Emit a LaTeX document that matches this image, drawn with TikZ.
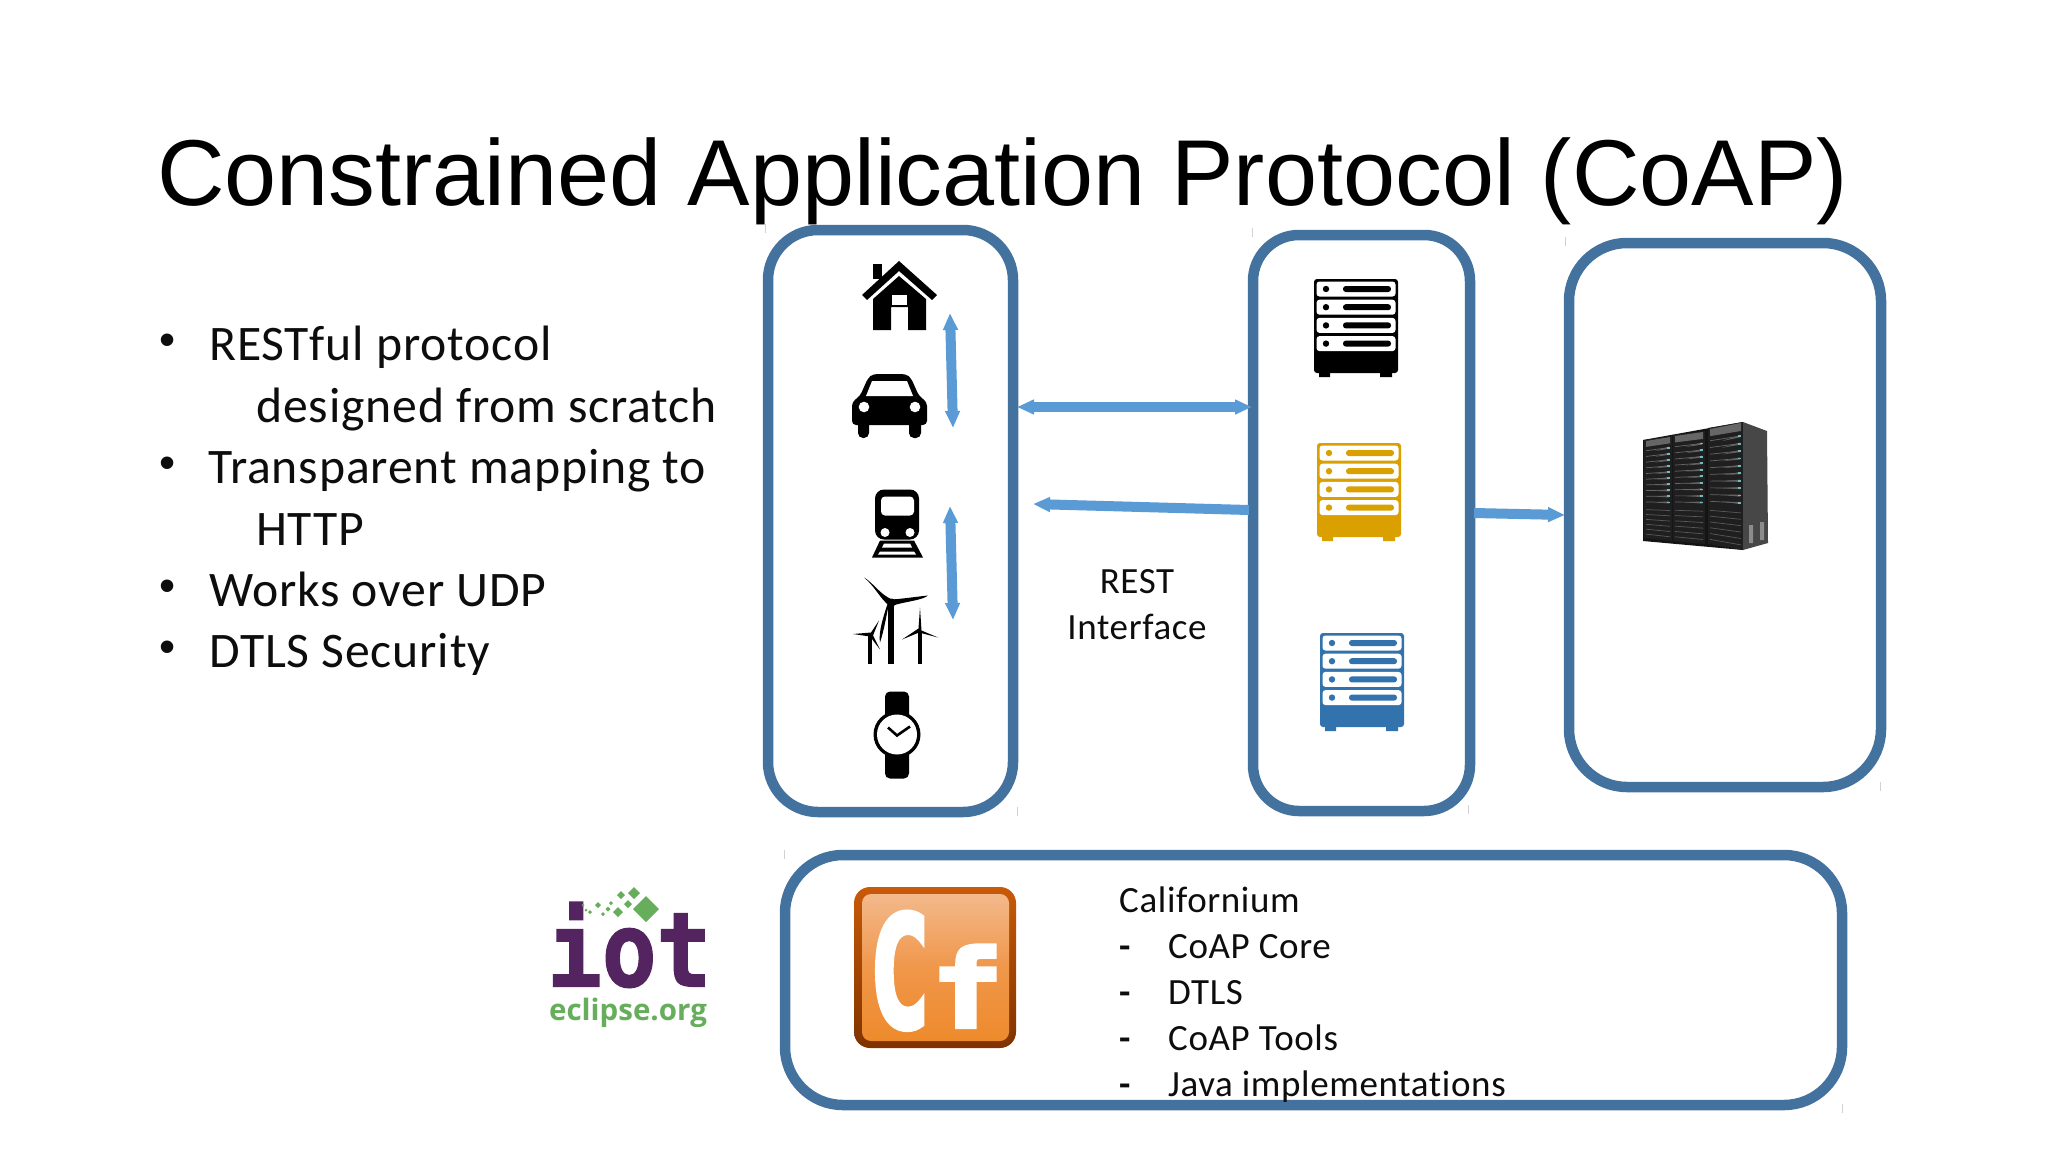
\documentclass[tikz,border=0pt]{standalone}
\usepackage{fontspec}
\usepackage{graphicx}
\setmainfont{Carlito}[Ligatures=NoCommon,LetterSpace=1.7]
\newfontfamily\titlefont{Liberation Sans}
\newfontfamily\logofont{DejaVu Sans Mono Bold}[FakeBold=3.5]
\newfontfamily\logofontb{DejaVu Sans Mono Bold}[FakeBold=1.5]
\newfontfamily\orgfont{Open Sans}
\usetikzlibrary{arrows.meta,shapes.geometric}
\definecolor{boxblue}{HTML}{44729F}
\definecolor{arrowblue}{HTML}{5B9BD5}
\definecolor{srvyellow}{HTML}{D9A000}
\definecolor{srvblue}{HTML}{3273AE}
\definecolor{iotpurple}{HTML}{53245F}
\definecolor{iotgreen}{HTML}{66AE5B}
\definecolor{cfrimtop}{HTML}{C85A08}
\definecolor{cfrimbot}{HTML}{7F3300}
\definecolor{cftop}{HTML}{F3B98C}
\definecolor{cfmid}{HTML}{F0974A}
\definecolor{cfbot}{HTML}{EE8A2C}
\tikzset{
  panel/.style={draw=boxblue,line width=10.5pt,rounded corners=#1},
  link/.style={draw=arrowblue,line width=10pt},
  two/.style={link,{Triangle[length=17pt,width=14pt]}-{Triangle[length=17pt,width=14pt]}},
  one/.style={link,-{Triangle[length=17pt,width=14pt]}},
  body/.style={inner sep=0pt,anchor=base west,font=\fontsize{49.7}{58}\selectfont,text=black!95},
  small/.style={inner sep=0pt,anchor=base west,font=\fontsize{37}{42}\selectfont,text=black!95},
  tick/.style={draw=black!18,line width=1pt}
}
% server icon: top-left corner #1,#2 ; colour #3
\newcommand{\serverIcon}[3]{%
  \begin{scope}[shift={(#1,#2)}]
    \fill[#3,rounded corners=3pt] (0,0) rectangle (84,94);
    \fill[#3] (5,92) rectangle (16,98) (66,92) rectangle (78,98);
    \foreach \s in {0,18.2,36.4,54.6}{
      \fill[white,rounded corners=3pt] (2.5,2.5+\s) rectangle (81.5,17.5+\s);
      \fill[#3] (12,10+\s) circle (3.2);
      \fill[#3,rounded corners=2.8pt] (29,7+\s) rectangle (77,13+\s);
    }
  \end{scope}}
% rack tower: xl xr ytl ytr ybl ybr
\newcommand{\rackTower}[6]{%
  \fill[black!88] (#1,#3) -- (#2,#4) -- (#2,#6) -- (#1,#5) -- cycle;
  \pgfmathsetmacro{\hl}{#3+0.07*(#5-#3)}
  \pgfmathsetmacro{\hr}{#4+0.07*(#6-#4)}
  \fill[black!60] (#1+2,#3+1) -- (#2-2,#4+1) -- (#2-2,\hr) -- (#1+2,\hl) -- cycle;
  \foreach \k in {0,...,9}{
    \pgfmathsetmacro{\f}{0.11+0.058*\k}
    \pgfmathsetmacro{\yl}{#3+\f*(#5-#3)}
    \pgfmathsetmacro{\yr}{#4+\f*(#6-#4)}
    \fill[black!45!white!70!black] (#1*.6+#2*.4,\yl+.3) -- (#2-3,\yr-1) -- (#2-3,\yr+1.2) -- cycle;
    \draw[black!60,line width=.7pt] (#1+2,\yl) -- (#2-3,\yr);
    \fill[teal!55!white] (#2-5,\yr-.8) rectangle (#2-2.5,\yr+1);
  }
  \foreach \k in {0,...,5}{
    \pgfmathsetmacro{\f}{0.71+0.05*\k}
    \pgfmathsetmacro{\yl}{#3+\f*(#5-#3)}
    \pgfmathsetmacro{\yr}{#4+\f*(#6-#4)}
    \draw[black!65,line width=.7pt] (#1+2,\yl) -- (#2-2,\yr);
  }}
\begin{document}
\begin{tikzpicture}[x=1pt,y=-1pt]
\fill[white] (0,0) rectangle (2048,1152);
\useasboundingbox (0,0) rectangle (2048,1152);

% title
\node[inner sep=0pt,anchor=base west,font=\titlefont\fontsize{93.6}{100}\selectfont] (title) at (157,205) {Constrained Application Protocol (CoAP)};

% bullets
\foreach \n/\yy in {a/360,b/483,c/606,d/667}{
  \node[body,font=\titlefont\fontsize{46}{50}\selectfont] (bul\n) at (159,\yy-5) {•};}
\node[body] (t1) at (209,360) {RESTful protocol};
\node[body] (t2) at (256,422) {designed from scratch};
\node[body] (t3) at (208,483) {Transparent mapping to};
\node[body] (t4) at (256,545) {HTTP};
\node[body] (t5) at (209,606) {Works over UDP};
\node[body] (t6) at (209,667) {DTLS Security};

% panels
\draw[panel=50pt] (768,230) rectangle (1013,812);
\draw[panel=46pt] (1253,235) rectangle (1470,811);
\draw[panel=58pt] (1569,243) rectangle (1881,787);
\draw[panel=58pt] (785,855) rectangle (1842,1105);

% faint corner ticks
\coordinate (k1) at (765,224); \coordinate (k2) at (1252,228); \coordinate (k3) at (1017,807);
\coordinate (k4) at (1565,237); \coordinate (k5) at (1468,805); \coordinate (k6) at (1880,782);
\coordinate (k7) at (784,850); \coordinate (k8) at (1842,1104);
\foreach \k in {k1,k2,k3,k4,k5,k6,k7,k8}{\draw[tick] (\k) -- ++(0,9);}

% connectors
\coordinate (a1s) at (950,313); \coordinate (a1e) at (953,428);
\coordinate (a2s) at (950,506); \coordinate (a2e) at (953,620);
\coordinate (a3s) at (1017,407); \coordinate (a3e) at (1252,407);
\coordinate (a4s) at (1249,510); \coordinate (a4e) at (1033,504);
\coordinate (a5s) at (1474,513); \coordinate (a5e) at (1565,515);
\draw[two] (a1s) -- (a1e);
\draw[two] (a2s) -- (a2e);
\draw[two] (a3s) -- (a3e);
\draw[one] (a4s) -- (a4e);
\draw[one] (a5s) -- (a5e);

% REST interface
\node[small,anchor=base] (rest) at (1137,593) {REST};
\node[small,anchor=base] (iface) at (1137,639) {Interface};

% house
\fill[black] (873,264) rectangle (882,279);
\fill[black] (899,261) -- (937,295) -- (932,300) -- (899,271) -- (867,300) -- (862,295) -- cycle;
\fill[black] (873,299) -- (899,276) -- (926,299) -- (926,330) -- (908,330) -- (908,307) -- (891,307) -- (891,330) -- (873,330) -- cycle;
\fill[white] (892,295) rectangle (907,305);

% car
\fill[black,rounded corners=4pt] (852,402) -- (860,396) -- (868,378) -- (873,374) -- (906,374) -- (911,378) -- (919,396) -- (927,402) -- (927,425) -- (852,425) -- cycle;
\fill[white] (866,396) -- (872,381) -- (907,381) -- (913,396) -- cycle;
\fill[black,rounded corners=5pt] (858,420) rectangle (869,438);
\fill[black,rounded corners=5pt] (909,420) rectangle (921,438);
\fill[white] (864,407) circle (5.3) (915,407) circle (5.3);

\begin{scope}[shift={(0,2.5)}]
% train
\fill[black,rounded corners=9pt] (875,487) rectangle (919,537);
\fill[white,rounded corners=4pt] (881,494) rectangle (914,513);
\fill[white] (885,530) circle (4.5) (910,530) circle (4.5);
\fill[black] (880,538) -- (914,538) -- (923,555) -- (872,555) -- cycle;
\fill[white] (884,541) -- (910,541) -- (912,545) -- (882,545) -- cycle;
\fill[white] (880,549) -- (914,549) -- (916,552) -- (878,552) -- cycle;

% wind turbines
\fill[black] (888,601) rectangle (894,661);
\fill[black] (892,600) circle (4);
\fill[black] (892,597) .. controls (880,592) and (873,580) .. (864,575) .. controls (875,584) and (880,596) .. (889,603) -- cycle;
\fill[black] (892,597) .. controls (905,596) and (918,594) .. (928,593) .. controls (922,598) and (905,599) .. (893,603) -- cycle;
\fill[black] (889,601) .. controls (886,615) and (884,628) .. (880,640) .. controls (878,630) and (884,612) .. (888,600) -- cycle;
\fill[black] (917.5,628) rectangle (921.5,661);
\fill[black] (920,605) -- (921.5,628) -- (938,635) -- (919,630) -- (902,637) -- (918.5,626) -- cycle;
\fill[black] (868,632) rectangle (872,661);
\fill[black] (853,631.5) -- (871,630) -- (879,618) -- (873,633) -- (880,647) -- (870,634) -- cycle;

% watch
\fill[black,rounded corners=5pt] (885,689) rectangle (909,776);
\fill[black] (897,732) circle (23.5);
\fill[white] (897,732) circle (20);
\draw[black,line width=2.6pt] (888,725) -- (897,733) -- (910,724);
\end{scope}

% servers
\serverIcon{1314}{279}{black}
\serverIcon{1317}{443}{srvyellow}
\serverIcon{1320}{633}{srvblue}

% rack
\fill[black!92] (1643,440) -- (1743,422) -- (1743,550) -- (1643,541) -- cycle;
\rackTower{1644}{1672}{440}{436}{538}{541}
\rackTower{1673}{1705}{435}{431}{541}{544}
\rackTower{1708}{1743}{428}{422}{544}{550}
\fill[black!72] (1743,422) -- (1767,431) -- (1768,543) -- (1743,550) -- cycle;
\fill[black!45] (1749,525) rectangle (1753,543) (1760,522) rectangle (1764,540);

% Californium list
\node[small] (cal) at (1119,912) {Californium};
\foreach \n/\yy/\lab in {1/958/CoAP Core,2/1004/DTLS,3/1050/CoAP Tools,4/1096/Java implementations}{
  \node[small] (d\n) at (1119,\yy) {\bfseries -};
  \node[small] (l\n) at (1168,\yy) {\lab};
}

% Cf logo
\shade[top color=cfrimtop,bottom color=cfrimbot,rounded corners=16pt] (854,887) rectangle (1016,1048);
\shade[top color=cftop,bottom color=cfbot,middle color=cfmid,rounded corners=9pt] (862,894) rectangle (1009,1041);
\node[inner sep=0pt,text=white,anchor=north west] (cfc) at (869,912) {\resizebox{61pt}{115pt}{\logofont C}};
\node[inner sep=0pt,text=white,anchor=north west] (cff) at (931,945) {\resizebox{72pt}{82pt}{\logofont f}};

% iot logo
\node[inner sep=0pt,text=iotpurple,anchor=north west] (iot) at (547,902) {\resizebox{164pt}{84pt}{\logofontb iot}};
\node[inner sep=0pt,anchor=base,text=iotgreen,font=\orgfont\bfseries\fontsize{29.5}{36}\selectfont] (org) at (628,1020) {eclipse.org};
\foreach \x/\y/\s in {646/909/26,634/893/12,621/895/8,628/904/8,618/912/10,608/909/5,598/905/6,590/912/4,583/905/3,586/910/3,603/914/4,611/903/4}{
  \fill[iotgreen] (\x-\s/2,\y) -- (\x,\y-\s/2) -- (\x+\s/2,\y) -- (\x,\y+\s/2) -- cycle;}
\end{tikzpicture}
\end{document}
